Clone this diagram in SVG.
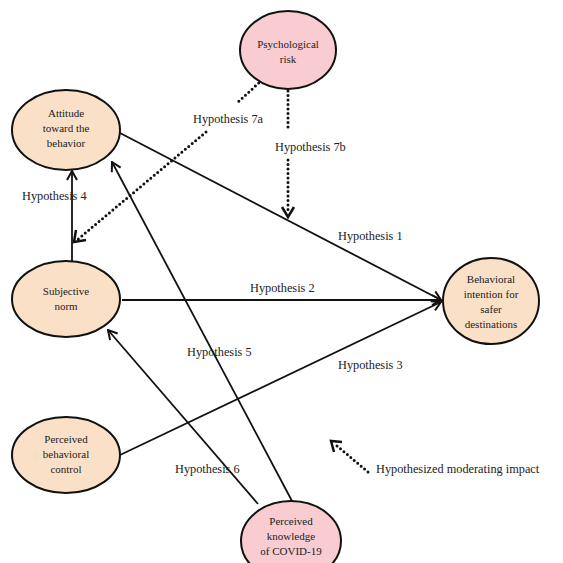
<svg xmlns="http://www.w3.org/2000/svg" width="563" height="563" viewBox="0 0 563 563">
<style>
.node{stroke:#111;stroke-width:2}
.beige{fill:#fae0c6}
.pink{fill:#f8ccd0}
.nt{font-family:"Liberation Serif","Times New Roman",serif;font-size:11px;fill:#222;text-anchor:middle}
.lbl{font-family:"Liberation Serif","Times New Roman",serif;font-size:12.3px;fill:#222}
.solid{stroke:#111;stroke-width:1.8;fill:none}
.dot{stroke:#111;stroke-width:3;fill:none;stroke-linecap:round;stroke-dasharray:0 4.5}
</style>
<defs>
<marker id="ah" viewBox="0 0 12 12" refX="11" refY="6" markerWidth="12" markerHeight="12" markerUnits="userSpaceOnUse" orient="auto">
<path d="M2,1 L11,6 L2,11" fill="none" stroke="#111" stroke-width="2"/>
</marker>
</defs>
<rect width="563" height="563" fill="#fff"/>
<g id="connectors">
<line class="solid" x1="120" y1="133" x2="441" y2="300" marker-end="url(#ah)"/>
<line class="solid" x1="122" y1="300" x2="441" y2="300" marker-end="url(#ah)"/>
<line class="solid" x1="120" y1="455" x2="441" y2="302" marker-end="url(#ah)"/>
<line class="solid" x1="72" y1="261" x2="72" y2="171" marker-end="url(#ah)"/>
<line class="solid" x1="292" y1="501" x2="112" y2="162" marker-end="url(#ah)"/>
<line class="solid" x1="258" y1="504" x2="108" y2="330" marker-end="url(#ah)"/>
<line class="dot" x1="262" y1="80" x2="236" y2="104"/>
<line class="dot" x1="206" y1="132" x2="77" y2="240"/>
<path d="M76,230 L74,242 L86,240" fill="none" stroke="#111" stroke-width="2.5"/>
<line class="dot" x1="288" y1="91" x2="288" y2="130"/>
<line class="dot" x1="288" y1="160" x2="288" y2="214"/>
<path d="M282,207 L288,217 L294,207" fill="none" stroke="#111" stroke-width="2.5"/>
<line class="dot" x1="368" y1="472" x2="336" y2="445"/>
<path d="M334,452 L331,441 L342,442" fill="none" stroke="#111" stroke-width="2.5"/>
</g>
<g id="psychological-risk">
<ellipse class="node pink" cx="288" cy="50" rx="48" ry="39"/>
<text class="nt" x="288" y="48">Psychological</text>
<text class="nt" x="288" y="63">risk</text>
</g>
<g id="attitude">
<ellipse class="node beige" cx="66" cy="130" rx="54" ry="40"/>
<text class="nt" x="66" y="117">Attitude</text>
<text class="nt" x="66" y="132">toward the</text>
<text class="nt" x="66" y="147">behavior</text>
</g>
<g id="subjective-norm">
<ellipse class="node beige" cx="66" cy="299" rx="54" ry="38"/>
<text class="nt" x="66" y="295">Subjective</text>
<text class="nt" x="66" y="310">norm</text>
</g>
<g id="behavioral-intention">
<ellipse class="node beige" cx="491" cy="301" rx="48" ry="43"/>
<text class="nt" x="491" y="283">Behavioral</text>
<text class="nt" x="491" y="298">intention for</text>
<text class="nt" x="491" y="313">safer</text>
<text class="nt" x="491" y="328">destinations</text>
</g>
<g id="perceived-behavioral-control">
<ellipse class="node beige" cx="66" cy="455" rx="54" ry="38"/>
<text class="nt" x="66" y="443">Perceived</text>
<text class="nt" x="66" y="458">behavioral</text>
<text class="nt" x="66" y="473">control</text>
</g>
<g id="perceived-knowledge">
<ellipse class="node pink" cx="291" cy="541" rx="50" ry="40"/>
<text class="nt" x="291" y="525">Perceived</text>
<text class="nt" x="291" y="540">knowledge</text>
<text class="nt" x="291" y="555">of COVID-19</text>
</g>
<g id="labels">
<text class="lbl" x="193" y="123">Hypothesis 7a</text>
<text class="lbl" x="275" y="151">Hypothesis 7b</text>
<text class="lbl" x="22" y="200">Hypothesis 4</text>
<text class="lbl" x="338" y="240">Hypothesis 1</text>
<text class="lbl" x="250" y="292">Hypothesis 2</text>
<text class="lbl" x="187" y="356">Hypothesis 5</text>
<text class="lbl" x="338" y="369">Hypothesis 3</text>
<text class="lbl" x="175" y="473">Hypothesis 6</text>
<text class="lbl" x="376" y="473">Hypothesized moderating impact</text>
</g>
</svg>
